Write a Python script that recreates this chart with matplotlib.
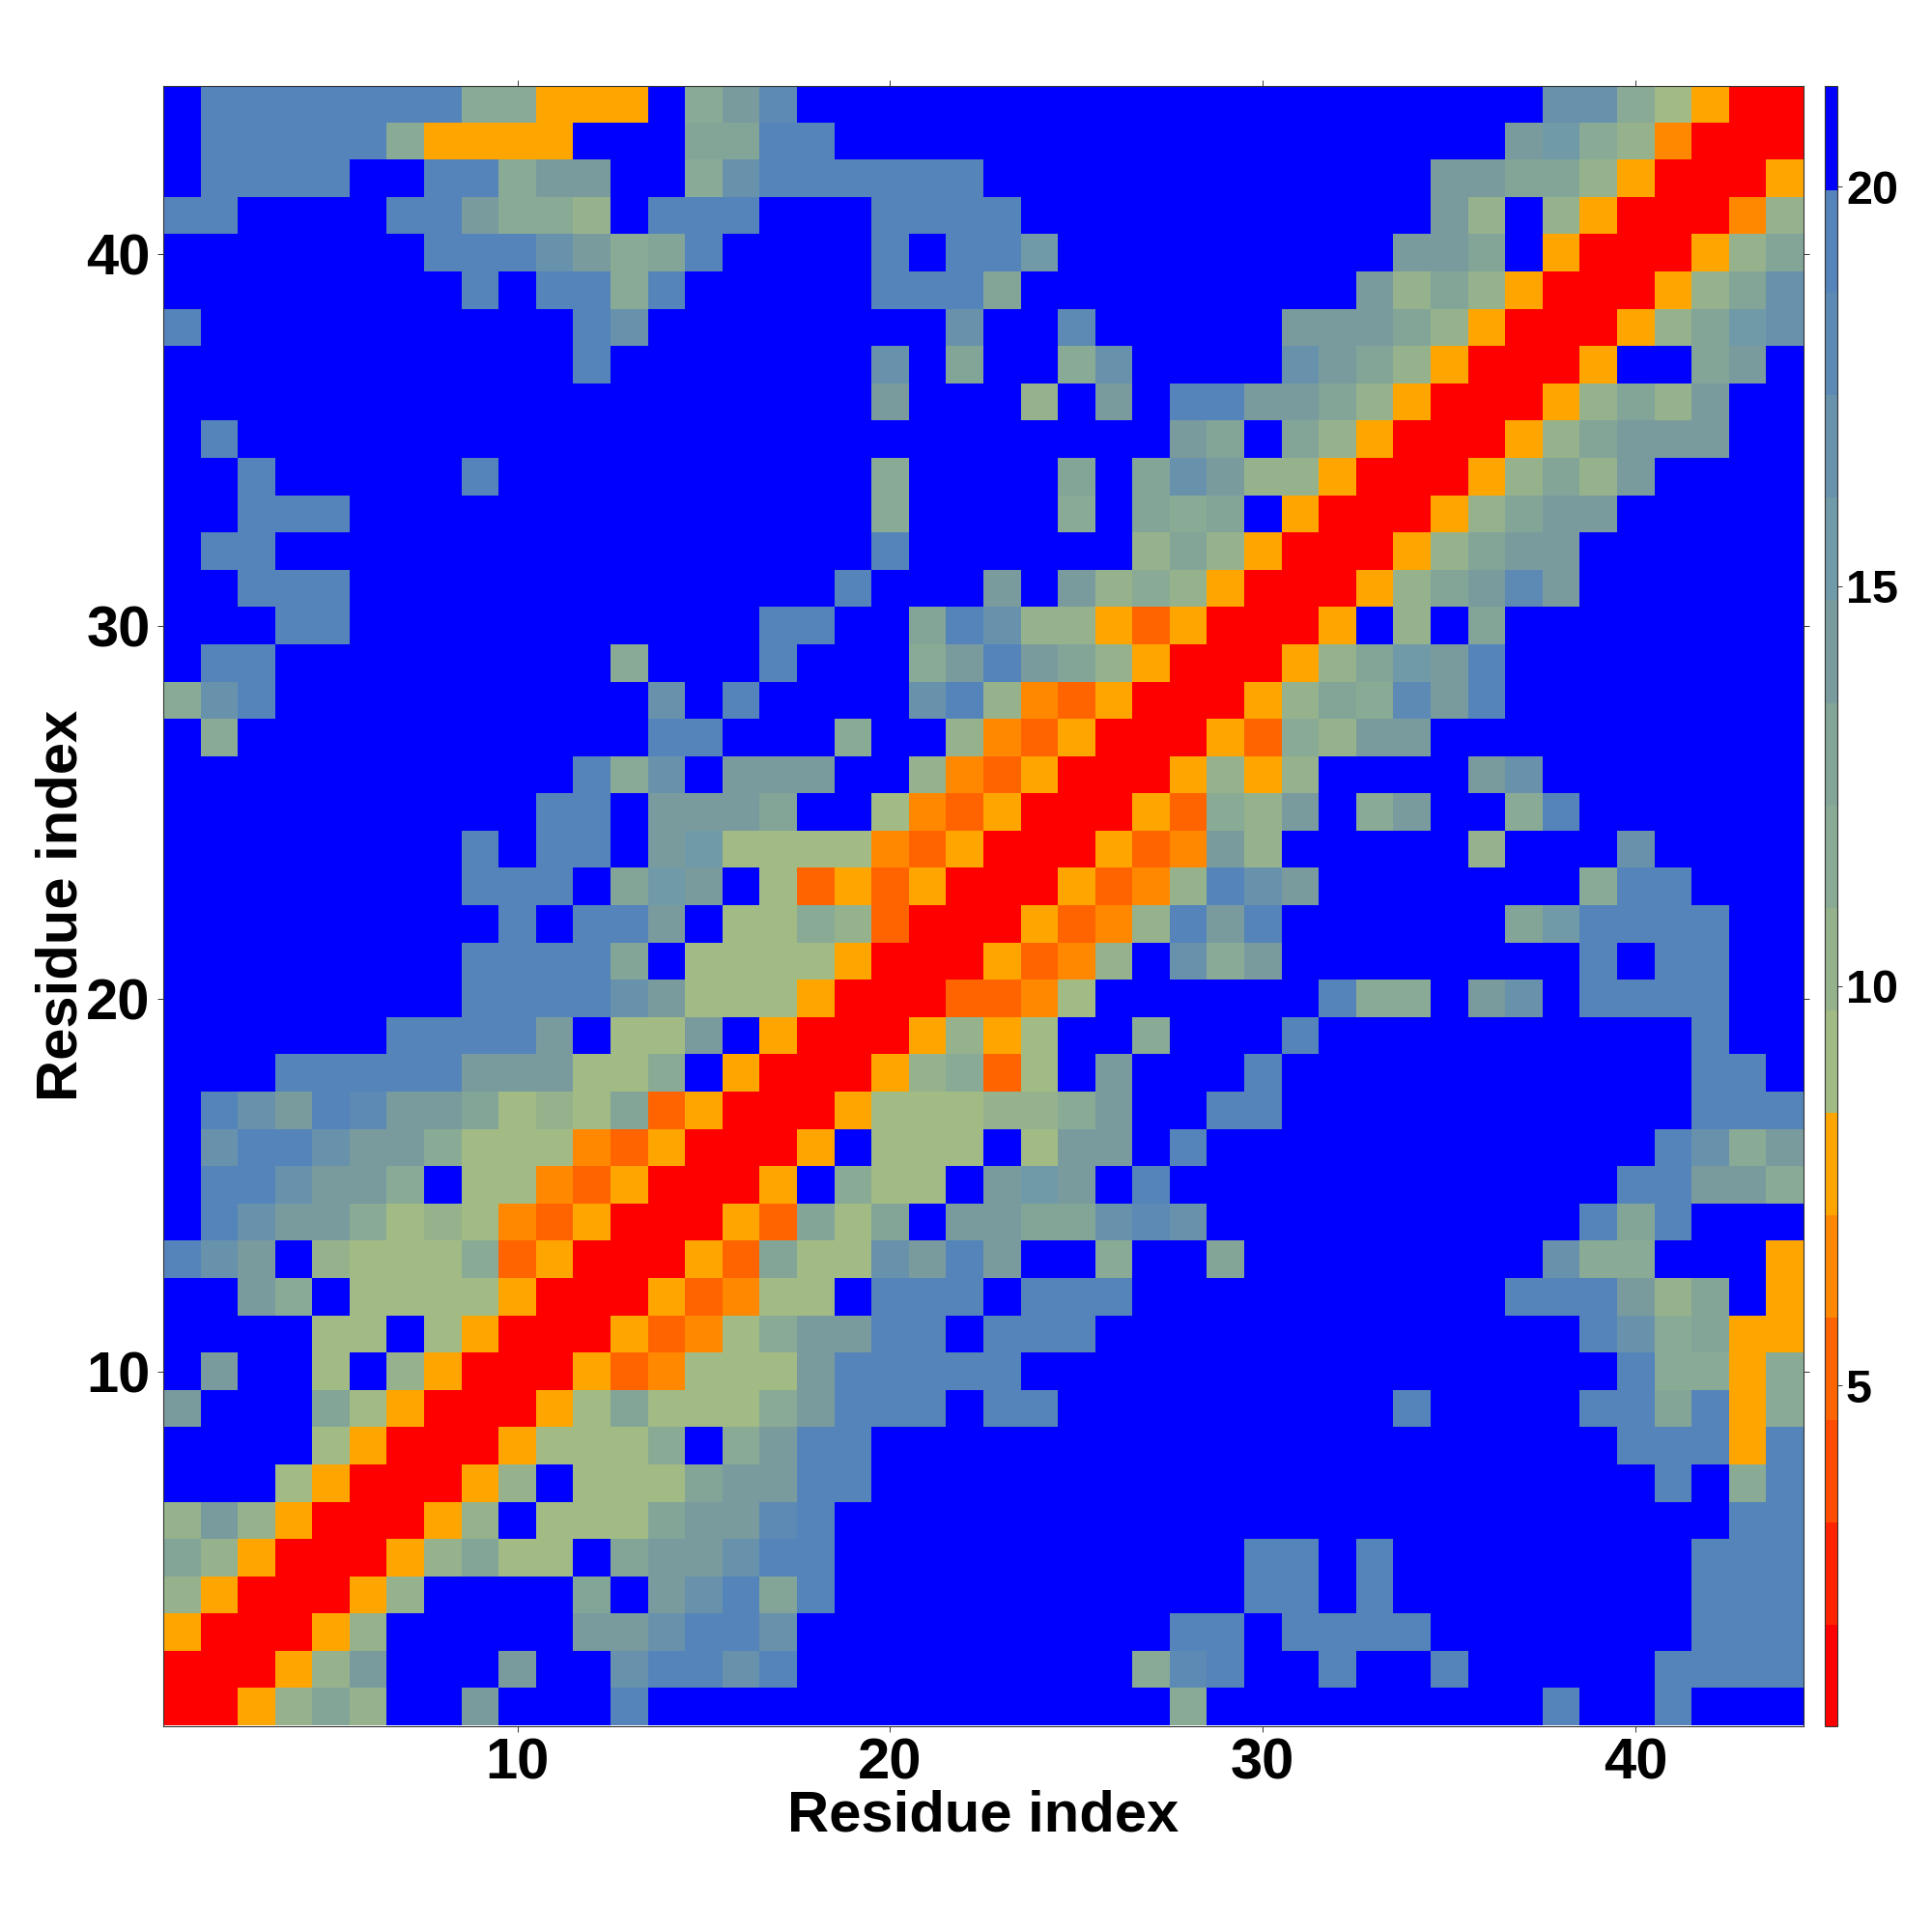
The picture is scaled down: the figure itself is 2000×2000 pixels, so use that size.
import numpy as np
import matplotlib
matplotlib.use("Agg")
import matplotlib.pyplot as plt
from matplotlib.colors import ListedColormap, BoundaryNorm

plt.rcParams['font.family'] = ['Liberation Sans', 'DejaVu Sans']
plt.rcParams['font.weight'] = 'bold'

residues = list(range(1, 45))
x_ticks = [10, 20, 30, 40]
y_ticks = [10, 20, 30, 40]
bar_ticks = [5, 10, 15, 20]
axis_label = "Residue index"

range_low = 0.743
range_high = 21.26

palette = ['#ff0000', '#ff2400', '#ff4c00', '#ff6400', '#ff8800', '#ffa500',
           '#a2bb84', '#96b28c', '#89aa94', '#82a598', '#7a9b9e', '#709aa8',
           '#6892ac', '#5c8ab4', '#5484ba', '#0000ff']
codes = "0123456789abcdef"

# level code per residue column, one string per row from residue 44 down to residue 1
rows_top_down = [
    "f eeeeeee 88 555 f 8 a d ffffffffffffffffffff cc 8 6 5 00",
    "f eeeee 8 5555 fff 99 ee ffffffffffffffffff a b 8 7 4 000",
    "f eeee ff ee 8 a a ff 8 c eeeeee ffffffffffff aa 99 7 5 000 5",
    "ee ffff ee a 88 7 f eee fff eeee fffffffffff a 7 f 7 5 000 4 7",
    "fffffff eee c a 8 9 e ffff e f ee b fffffffff aa 9 f 5 000 5 7 9",
    "ffffffff e f ee 8 e fffff eee 9 fffffffff a 7 9 7 5 000 5 7 9 c",
    "e ffffffffff e c ffffffff c ff d fffff aaa 9 7 5 000 5 7 9 b c",
    "fffffffffff e fffffff c f 9 ff 8 c ffff c a 9 7 5 000 5 ff 9 a f",
    "fffffffffffffffffff a fff 7 f a f ee a a 9 7 5 000 5 7 9 7 a ff",
    "f e fffffffffffffffffffffffff a 9 f 9 7 5 000 5 7 9 aaa ff",
    "ff e fffff e ffffffffff 8 ffff 9 f 9 c a 7 7 5 000 5 7 9 7 a ffff",
    "ff eee ffffffffffffff 8 ffff 8 f 9 8 9 f 5 000 5 7 9 a a fffff",
    "f ee ffffffffffffffff e ffffff 7 9 7 5 000 5 7 9 a a ffffff",
    "ff eee fffffffffffff e fff a f a 7 8 7 5 000 5 7 9 a d a ffffff",
    "fff ee fffffffffff ee ff 9 e c 77 5 3 5 000 5 f 7 f 9 ffffffff",
    "f ee fffffffff 8 fff e fff 8 a e a 9 7 5 000 5 7 9 b a e ffffffff",
    "8 c e ffffffffff c f e ffff c e 7 4 3 5 000 5 7 9 8 d a e ffffffff",
    "f 8 fffffffffff ee fff 8 ff 7 4 3 5 000 5 3 8 7 a a ffffffffff",
    "fffffffffff e 8 c f aaa ff 7 4 3 5 000 5 7 5 7 ffff a c fffffff",
    "ffffffffff ee f aa a 9 ff 6 4 3 5 000 5 3 8 7 a f 8 a ff 8 e ffffff",
    "ffffffff e f ee f a b 6666 4 3 5 000 5 3 4 a 7 fffff 7 fff c ffff",
    "ffffffff eee f 9 b a f 6 3 5 3 5 000 5 3 4 7 e c a fffffff 8 ee fff",
    "fffffffff e f ee a f 66 8 7 3 000 5 3 4 7 e a e ffffff 9 b eeee ff",
    "ffffffff eeee 9 f 6666 5 000 5 3 4 7 f c 8 a ffffffff e f ee ff",
    "ffffffff eeee c a 666 5 000 33 4 6 ffffff e 88 f a c f eeee ff",
    "ffffff eeee a f 66 a f 5 000 5 7 5 6 ff 8 fff e ffffffffff e ff",
    "fff eeeee aaa 66 8 f 5 000 5 7 8 3 6 f a fff e fffffffffff ee f",
    "f e c a e d aa 9 6 7 6 9 3 5 000 5 666 7 7 8 a ff ee fffffffffff eee",
    "f c ee c aa 8 666 4 3 5 000 5 f 666 f 6 aa f e ffffffffffff e c 8 a",
    "f ee c aa 8 f 66 4 3 5 000 5 f 8 66 f a b a f e ffffffffffff ee a a 8",
    "f e c aa 8 6 7 6 4 3 5 000 5 3 9 6 9 f a a 9 9 c d c ffffffffff e 9 e fff",
    "e c a f 7 666 8 3 5 000 5 3 9 66 c a e a ff 8 ff 9 f fffffff c 88 fff 5",
    "ff a 8 f 6666 5 000 5 3 4 66 f eee f eee ffffffffff eee a 7 9 f 5",
    "ffff 66 f 6 5 000 5 3 4 6 8 aa ee f eee fffffffffffff e c 8 9 55",
    "f a ff 6 f 7 5 000 5 3 4 666 a eeeee ffffffffffffffff e 88 5 8",
    "a fff 9 6 5 000 5 6 9 666 8 a eee f ee fffffffff e ffff ee 9 e 5 8",
    "ffff 6 5 000 5 666 8 f 8 a ee ffffffffffffffffffff eee 5 e",
    "fff 6 5 000 5 7 f 666 9 aa ee fffffffffffffffffffff e f 8 e",
    "7 a 7 5 000 5 7 f 666 9 aa d e ffffffffffffffffffffffff ee",
    "9 7 5 000 5 7 9 66 f 9 a a c ee fffffffffff ee f e ffffffff eee",
    "7 5 000 5 7 ffff 9 f a c e 9 e fffffffffff ee f e ffffffff eee",
    "5 000 5 7 fffff aa c ee c ffffffffff ee f eeee fffffff eee",
    "000 5 7 a fff a ff c ee c e fffffffff 8 d e ff e ff e fffff eeee",
    "00 5 7 9 7 ff a fff e ffffffffffffff 8 fffffffff e ff e fff",
]

rows_clean = [r.replace(" ", "") for r in rows_top_down]
for i, r in enumerate(rows_clean):
    assert len(r) == 44, (i, len(r))

step = (range_high - range_low) / len(palette)
matrix = np.array([[range_low + (codes.index(ch) + 0.5) * step for ch in r]
                   for r in rows_clean[::-1]])

W = H = 2000
fig = plt.figure(figsize=(20, 20), dpi=100, facecolor='white')
L, R, T, B = 169, 1866.5, 89, 1786.5
ax = fig.add_axes([L / W, 1 - B / H, (R - L) / W, (B - T) / H])

cmap = ListedColormap(palette)
edges = np.linspace(range_low, range_high, len(palette) + 1)
norm = BoundaryNorm(edges, cmap.N)
im = ax.imshow(matrix, origin='lower', extent=(0.5, 44.5, 0.5, 44.5), cmap=cmap,
               norm=norm, interpolation='nearest', aspect='auto')

edge = '#333333'
for s in ax.spines.values():
    s.set_linewidth(0.8)
    s.set_color(edge)
ax.set_xticks(x_ticks)
ax.set_yticks(y_ticks)
ax.tick_params(axis='both', which='major', direction='out', length=4.5, width=0.7,
               color=edge, top=True, right=True, labelsize=43)
ax.tick_params(axis='x', pad=4)
ax.tick_params(axis='y', pad=5)
ax.set_xlabel(axis_label, fontsize=43, fontweight='bold')
ax.set_ylabel(axis_label, fontsize=43, fontweight='bold')
ax.xaxis.set_label_coords(0.5, 1 - (1880 - T) / (B - T))
ax.yaxis.set_label_coords((64 - L) / (R - L), 0.5)
ax.xaxis.label.set_verticalalignment('center')
ax.yaxis.label.set_verticalalignment('center')

cax = fig.add_axes([1889 / W, 1 - B / H, 13 / W, (B - T) / H])
cb = fig.colorbar(im, cax=cax, boundaries=edges, ticks=bar_ticks, spacing='proportional')
cb.solids.set_edgecolor('face')
cb.outline.set_linewidth(0.8)
cb.outline.set_edgecolor(edge)
cax.tick_params(axis='y', direction='out', length=3.5, width=0.7, color=edge,
                labelsize=35, pad=3)
cax.minorticks_off()
for t in cax.get_yticklabels():
    t.set_fontweight('bold')

fig.savefig('out.png', dpi=100, facecolor='white')
